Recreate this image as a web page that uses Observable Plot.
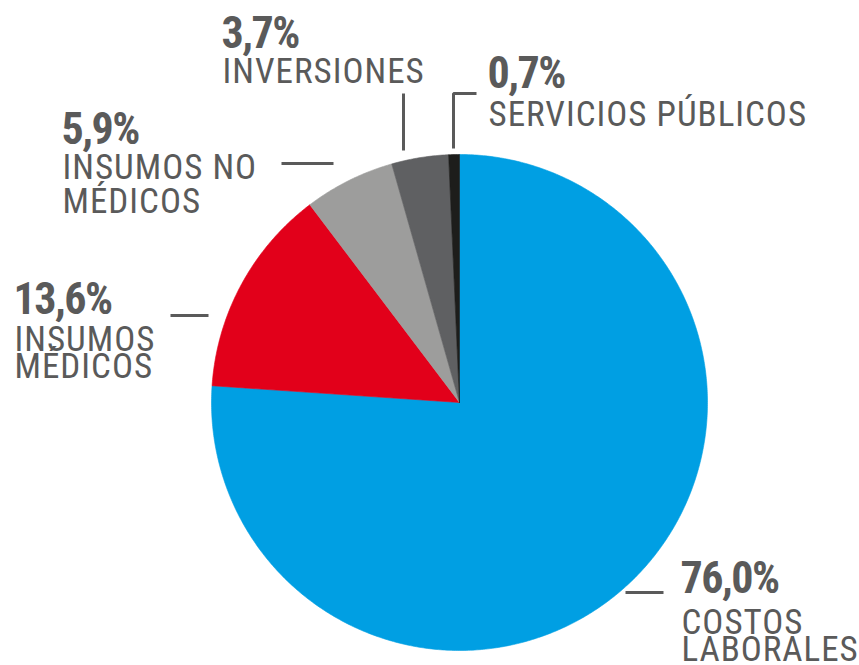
<!DOCTYPE html>
<html>
<head>
<meta charset="utf-8">
<script src="https://cdn.jsdelivr.net/npm/d3@7"></script>
<script src="https://cdn.jsdelivr.net/npm/@observablehq/plot@0.6"></script>
<style>
  html, body { margin: 0; padding: 0; background: #ffffff; }
  #chart svg { display: block; }
  #chart g[aria-description="percent"] text { letter-spacing: -1.5px; }
  #chart g[aria-description="name"] text { letter-spacing: 1px; }
</style>
</head>
<body>
<div id="chart"></div>
<script>
// ---- data ----
const categories = ["COSTOS LABORALES", "INSUMOS MÉDICOS", "INSUMOS NO MÉDICOS", "INVERSIONES", "SERVICIOS PÚBLICOS"];
const values = [76.0, 13.6, 5.9, 3.7, 0.7];
const percentLabels = ["76,0%", "13,6%", "5,9%", "3,7%", "0,7%"];
const nameLines = [["COSTOS", "LABORALES"], ["INSUMOS", "MÉDICOS"], ["INSUMOS NO", "MÉDICOS"], ["INVERSIONES"], ["SERVICIOS PÚBLICOS"]];
const colors = ["#009fe3", "#e2001a", "#9d9d9c", "#5f6062", "#1d1d1b"];

// ---- layout (pixels) ----
const W = 859, H = 665, CX = 459, CY = 402, R = 248;
const TEXT = "#5a5a5a";
const FONT = "'Roboto Condensed', 'DejaVu Sans Condensed', sans-serif";
const NAME_SIZE = 35, PCT_SIZE = 44;
// label anchors: x, percent baseline, last name-line baseline, line pitch
const labelLayout = [
  {x: 680, pct: 592, last: 660, pitch: 27},
  {x: 13, pct: 313, last: 377, pitch: 27},
  {x: 61, pct: 143, last: 212, pitch: 34},
  {x: 221, pct: 47, last: 82, pitch: 27},
  {x: 487, pct: 87, last: 125, pitch: 27}
];
const leaderLayout = [
  [[625, 592], [663, 592]],
  [[170, 315], [208, 315]],
  [[281, 163], [333, 163]],
  [[403, 93], [403, 150]],
  [[476, 93], [453, 93], [453, 148]]
];
const ux = px => (px - CX) / R;
const uy = py => (CY - py) / R;

// ---- pie geometry from values (unit circle, clockwise from 12 o'clock) ----
const arcs = d3.pie().sort(null).value(d => d.value)(categories.map((c, i) => ({cat: c, value: values[i]})));
const slicePts = [];
arcs.forEach(a => {
  const steps = Math.max(2, Math.ceil((a.endAngle - a.startAngle) / (Math.PI / 360)));
  slicePts.push({cat: a.data.cat, x: 0, y: 0});
  for (let k = 0; k <= steps; k++) {
    const t = a.startAngle + (a.endAngle - a.startAngle) * k / steps;
    slicePts.push({cat: a.data.cat, x: Math.sin(t), y: Math.cos(t)});
  }
  slicePts.push({cat: a.data.cat, x: 0, y: 0});
});

const pctRows = categories.map((c, i) => ({cat: c, text: percentLabels[i], x: ux(labelLayout[i].x), y: uy(labelLayout[i].pct)}));
const leaderRows = [];
leaderLayout.forEach((pts, i) => pts.forEach(p => leaderRows.push({cat: categories[i], x: ux(p[0]), y: uy(p[1])})));

const nameMarks = categories.map((c, i) => Plot.text(
  [{cat: c, text: nameLines[i].join("\n"), x: ux(labelLayout[i].x + 1), y: uy(labelLayout[i].last)}],
  {x: "x", y: "y", text: "text", textAnchor: "start", lineAnchor: "bottom",
   lineHeight: labelLayout[i].pitch / NAME_SIZE, fill: TEXT, fontSize: NAME_SIZE,
   fontFamily: FONT, ariaDescription: "name"}
));

const chart = Plot.plot({
  width: W,
  height: H,
  margin: 0,
  x: {domain: [ux(0), ux(W)], axis: null},
  y: {domain: [uy(H), uy(0)], axis: null},
  color: {domain: categories, range: colors},
  style: {background: "#ffffff", fontFamily: FONT},
  marks: [
    Plot.line(slicePts, {x: "x", y: "y", z: "cat", fill: "cat", stroke: "cat", strokeWidth: 0.6, curve: "linear"}),
    Plot.line(leaderRows, {x: "x", y: "y", z: "cat", stroke: TEXT, strokeWidth: 3, strokeLinecap: "butt", strokeLinejoin: "miter"}),
    Plot.text(pctRows, {x: "x", y: "y", text: "text", textAnchor: "start", lineAnchor: "bottom", fill: TEXT,
      fontSize: PCT_SIZE, fontWeight: "bold", fontFamily: FONT, ariaDescription: "percent"}),
    ...nameMarks
  ]
});
document.getElementById("chart").appendChild(chart);
</script>
</body>
</html>
